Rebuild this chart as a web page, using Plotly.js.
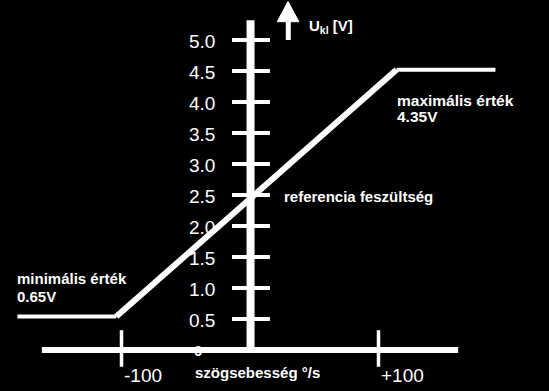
<!DOCTYPE html>
<html>
<head>
<meta charset="utf-8">
<script src="https://cdn.plot.ly/plotly-3.0.1.min.js"></script>
<style>html,body{margin:0;padding:0;background:#000;}#chart{width:549px;height:391px;}</style>
</head>
<body>
<div id="chart"></div>
<script>
// Data
const rateX = [-181, -104, 114, 191];          // szögsebesség °/s
const voltY = [0.54, 0.54, 4.52, 4.52];        // U_kl [V]
const yTickVals = [0.5, 1.0, 1.5, 2.0, 2.5, 3.0, 3.5, 4.0, 4.5, 5.0];
const yTickText = ["0.5", "1.0", "1.5", "2.0", "2.5", "3.0", "3.5", "4.0", "4.5", "5.0"];
const xTickVals = [-100, 100];
const xTickText = ["-100", "+100"];

const W = "#ffffff";
const FONT = "Liberation Sans, Arial, sans-serif";

const traces = [
  {x: rateX.slice(0, 2), y: voltY.slice(0, 2), mode: "lines", line: {color: W, width: 4}, hoverinfo: "skip"},
  {x: rateX.slice(1, 3), y: voltY.slice(1, 3), mode: "lines", line: {color: W, width: 6}, hoverinfo: "skip"},
  {x: rateX.slice(2, 4), y: voltY.slice(2, 4), mode: "lines", line: {color: W, width: 4}, hoverinfo: "skip"}
];

const shapes = [];
// x axis
shapes.push({type: "line", xref: "x", yref: "y", x0: -162, x1: 162, y0: 0, y1: 0, line: {color: W, width: 6}});
// y axis
shapes.push({type: "line", xref: "x", yref: "y", x0: 0.4, x1: 0.4, y0: 0, y1: 5.32, line: {color: W, width: 8}});
// y ticks
yTickVals.forEach(v => shapes.push({type: "line", xref: "x", yref: "y", x0: -14, x1: 15.5, y0: v, y1: v, line: {color: W, width: 4}}));
// x ticks
xTickVals.forEach(v => shapes.push({type: "line", xref: "x", yref: "y", x0: v, x1: v, y0: 0.32, y1: -0.27, line: {color: W, width: 3.5}}));
// arrow on top of y axis
shapes.push({type: "line", xref: "x", yref: "y", x0: 29.8, x1: 29.8, y0: 5.0, y1: 5.3, line: {color: W, width: 5}});
shapes.push({type: "path", xref: "x", yref: "y", path: "M 21.2 5.295 L 38.1 5.295 L 29.6 5.62 Z", fillcolor: W, line: {color: W, width: 1}});

const annotations = [];
yTickVals.forEach((v, i) => annotations.push({
  x: -25.7, y: v - 0.02, xref: "x", yref: "y", xanchor: "right", yanchor: "middle", showarrow: false,
  text: yTickText[i], font: {family: FONT, size: 19, color: W}
}));
xTickVals.forEach((v, i) => annotations.push({
  x: v, y: -0.41, xref: "x", yref: "y", xanchor: "left", yanchor: "middle", showarrow: false,
  text: xTickText[i], font: {family: FONT, size: 19, color: W}
}));
const labels = [
  {x: -45, y: 0.0, t: "0", s: 15, b: true, anchor: "left"},
  {x: -44.4, y: -0.37, t: "szögsebesség °/s", s: 15, b: true, anchor: "left"},
  {x: 44.4, y: 5.21, t: "U<sub>kl</sub> [V]", s: 15, b: true, anchor: "left"},
  {x: -182.9, y: 1.16, t: "minimális érték", s: 15, b: true, anchor: "left"},
  {x: -182.9, y: 0.86, t: "0.65V", s: 15, b: true, anchor: "left"},
  {x: 112.8, y: 4.03, t: "maximális érték", s: 15.5, b: true, anchor: "left"},
  {x: 112.8, y: 3.76, t: "4.35V", s: 15.5, b: true, anchor: "left"},
  {x: 24.9, y: 2.48, t: "referencia feszültség", s: 15, b: true, anchor: "left"}
];
labels.forEach(l => annotations.push({
  x: l.x, y: l.y, xref: "x", yref: "y", xanchor: l.anchor, yanchor: "middle", showarrow: false,
  text: l.b ? "<b>" + l.t + "</b>" : l.t, font: {family: FONT, size: l.s, color: W}
}));

const layout = {
  width: 549, height: 391,
  margin: {l: 0, r: 0, t: 0, b: 0, pad: 0},
  paper_bgcolor: "#000", plot_bgcolor: "#000",
  showlegend: false,
  xaxis: {range: [-194.55, 232.68], visible: false, fixedrange: true},
  yaxis: {range: [-0.661, 5.645], visible: false, fixedrange: true},
  shapes: shapes,
  annotations: annotations
};

Plotly.newPlot("chart", traces, layout, {displayModeBar: false, staticPlot: true});
</script>
</body>
</html>
